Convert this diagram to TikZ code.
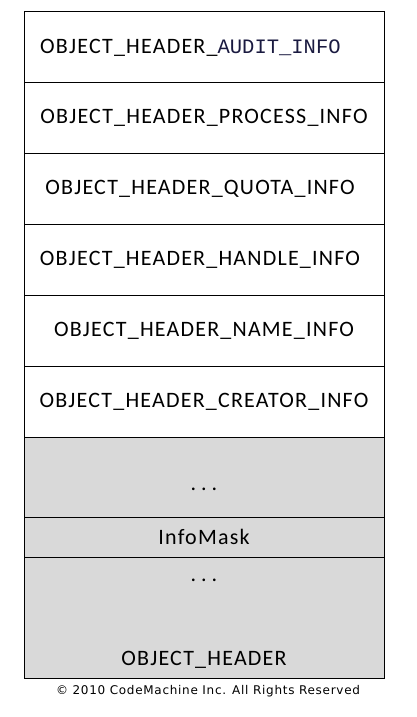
\documentclass[tikz,border=0pt]{standalone}
\usepackage{fontspec}
\setmainfont{Carlito}[LetterSpace=5.5]
\newfontfamily\auditfont{Liberation Mono}
\newfontfamily\notefont{DejaVu Sans}[LetterSpace=6]
\usepackage{xcolor}
\usetikzlibrary{positioning}
\definecolor{hdrgrey}{HTML}{D9D9D9}
\definecolor{auditblue}{HTML}{1A1A40}

\begin{document}
\begin{tikzpicture}[x=1pt,y=-1pt,
            field/.style={draw, line width=0.9pt, rectangle, minimum width=360pt, minimum height=71pt,
                 inner sep=0pt, font=\fontsize{22}{26}\selectfont},
            greyfield/.style={field, fill=hdrgrey},
            plain/.style={inner sep=0pt, font=\fontsize{22}{26}\selectfont}
            ]
            \useasboundingbox (0,0) rectangle (416,717);

            % Optional headers (white)
            \node[field] (audit) at (204,46.5) {};
            \node[plain, anchor=west] (audittxt) at (40,48) {OBJECT\_HEADER\_{\auditfont\fontsize{20.5}{24}\selectfont\color{auditblue}AUDIT\_INFO}};
            \node[field] (process) at (204,117.5) {OBJECT\_HEADER\_PROCESS\_INFO};
            \node[field] (quota) at (204,188.5) {\hspace{-8pt}OBJECT\_HEADER\_QUOTA\_INFO};
            \node[field] (handle) at (204,259.5) {\hspace{-8pt}OBJECT\_HEADER\_HANDLE\_INFO};
            \node[field] (name) at (204,330.5) {OBJECT\_HEADER\_NAME\_INFO};
            \node[field] (creator) at (204,401.5) {OBJECT\_HEADER\_CREATOR\_INFO};

            % OBJECT_HEADER itself (grey)
            \node[greyfield, minimum height=80pt] (upper) at (204,477) {};
            \node[plain] (upperdots) at (204,489) {.\hspace{5pt}.\hspace{5pt}.};
            \node[greyfield, minimum height=40pt] (mask) at (204,537) {InfoMask};
            \node[greyfield, minimum height=121pt] (hdr) at (204,617.5) {};
            \node[plain] (hdrdots) at (204,580) {.\hspace{5pt}.\hspace{5pt}.};
            \node[plain] (hdrname) at (204,660) {OBJECT\_HEADER};

            % Copyright
            \node[inner sep=0pt, font=\notefont\fontsize{12}{14}\selectfont] (copy) at (208,691) {\textcopyright{} 2010 CodeMachine Inc. All Rights Reserved};
        \end{tikzpicture}
\end{document}
